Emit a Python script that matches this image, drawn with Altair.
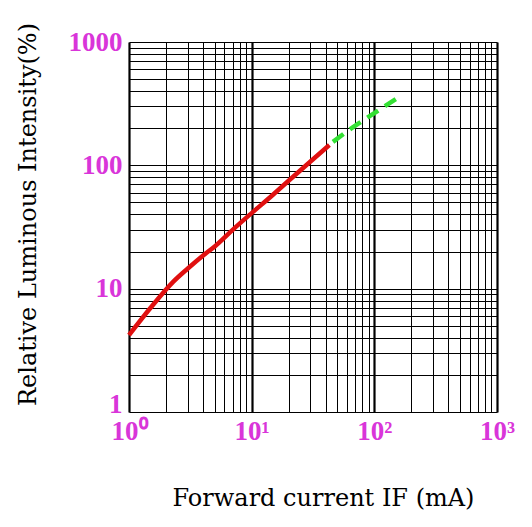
import altair as alt
import pandas as pd

# Red (solid) measured segment
red_if = [1, 1.5, 2.3, 3, 4, 5, 7, 10, 15, 20, 30, 43]
red_iv = [4.2, 7, 11.4, 14.5, 18.5, 22, 30, 41, 58, 75, 107, 146]
# Green (dashed) extrapolated segment
green_if = [46, 70, 100, 167]
green_iv = [155, 210, 265, 370]

grid_vals = [m * 10 ** e for e in range(0, 3) for m in range(1, 10)] + [1000]

df_red = pd.DataFrame({"IF": red_if, "IV": red_iv})
df_green = pd.DataFrame({"IF": green_if, "IV": green_iv})

MAG = "#d935d9"
FONT = "Liberation Serif"
TFONT = "DejaVu Serif"

decade_test = "abs(log(datum.value)/LN10 - round(log(datum.value)/LN10)) < 0.001"

xscale = alt.Scale(type="log", domain=[1, 1000], nice=False)
yscale = alt.Scale(type="log", domain=[1, 1000], nice=False)

xaxis = alt.Axis(
    values=grid_vals,
    labelExpr="datum.value == 1 ? '10⁰' : datum.value == 10 ? '10¹' : datum.value == 100 ? '10²' : datum.value == 1000 ? '10³' : ''",
    grid=True, gridColor="black", gridOpacity=1,
    gridWidth={"condition": {"test": decade_test, "value": 2.2}, "value": 1},
    ticks=False, domain=False,
    labelColor=MAG, labelFont=FONT, labelFontSize=27, labelFontWeight="bold",
    labelPadding=6, labelFlush=False, labelOverlap=False,
    title="Forward current IF (mA)", titleFont=TFONT, titleFontSize=24,
    titleFontWeight="normal", titleColor="black", titlePadding=42, titleX=194,
)
yaxis = alt.Axis(
    values=grid_vals,
    labelExpr="(datum.value == 1 || datum.value == 10 || datum.value == 100 || datum.value == 1000) ? format(datum.value, 'd') : ''",
    labelBaseline={"condition": {"test": "datum.value == 1", "value": "alphabetic"}, "value": "middle"},
    grid=True, gridColor="black", gridOpacity=1, gridWidth=1,
    ticks=False, domain=False,
    labelColor=MAG, labelFont=FONT, labelFontSize=27, labelFontWeight="bold",
    labelPadding=7, labelFlush=False, labelOverlap=False,
    title="Relative Luminous Intensity(%)", titleFont=TFONT, titleFontSize=24,
    titleFontWeight="normal", titleColor="black", titlePadding=28, titleY=172,
)

red = alt.Chart(df_red).mark_line(color="#e01010", strokeWidth=4.5, interpolate="monotone").encode(
    x=alt.X("IF:Q", scale=xscale, axis=xaxis),
    y=alt.Y("IV:Q", scale=yscale, axis=yaxis),
)
green = alt.Chart(df_green).mark_line(color="#33e033", strokeWidth=4.5, strokeDash=[13, 8], interpolate="monotone").encode(
    x=alt.X("IF:Q", scale=xscale),
    y=alt.Y("IV:Q", scale=yscale),
)

chart = (
    alt.layer(red, green)
    .properties(
        width=368, height=370,
        autosize=alt.AutoSizeParams(type="none"),
        padding={"left": 121, "top": 34, "right": 20, "bottom": 100},
    )
    .configure_view(stroke="black", strokeWidth=2)
    .configure(background="white")
)

chart.save("out.html", embed_options={"renderer": "svg", "actions": False})
